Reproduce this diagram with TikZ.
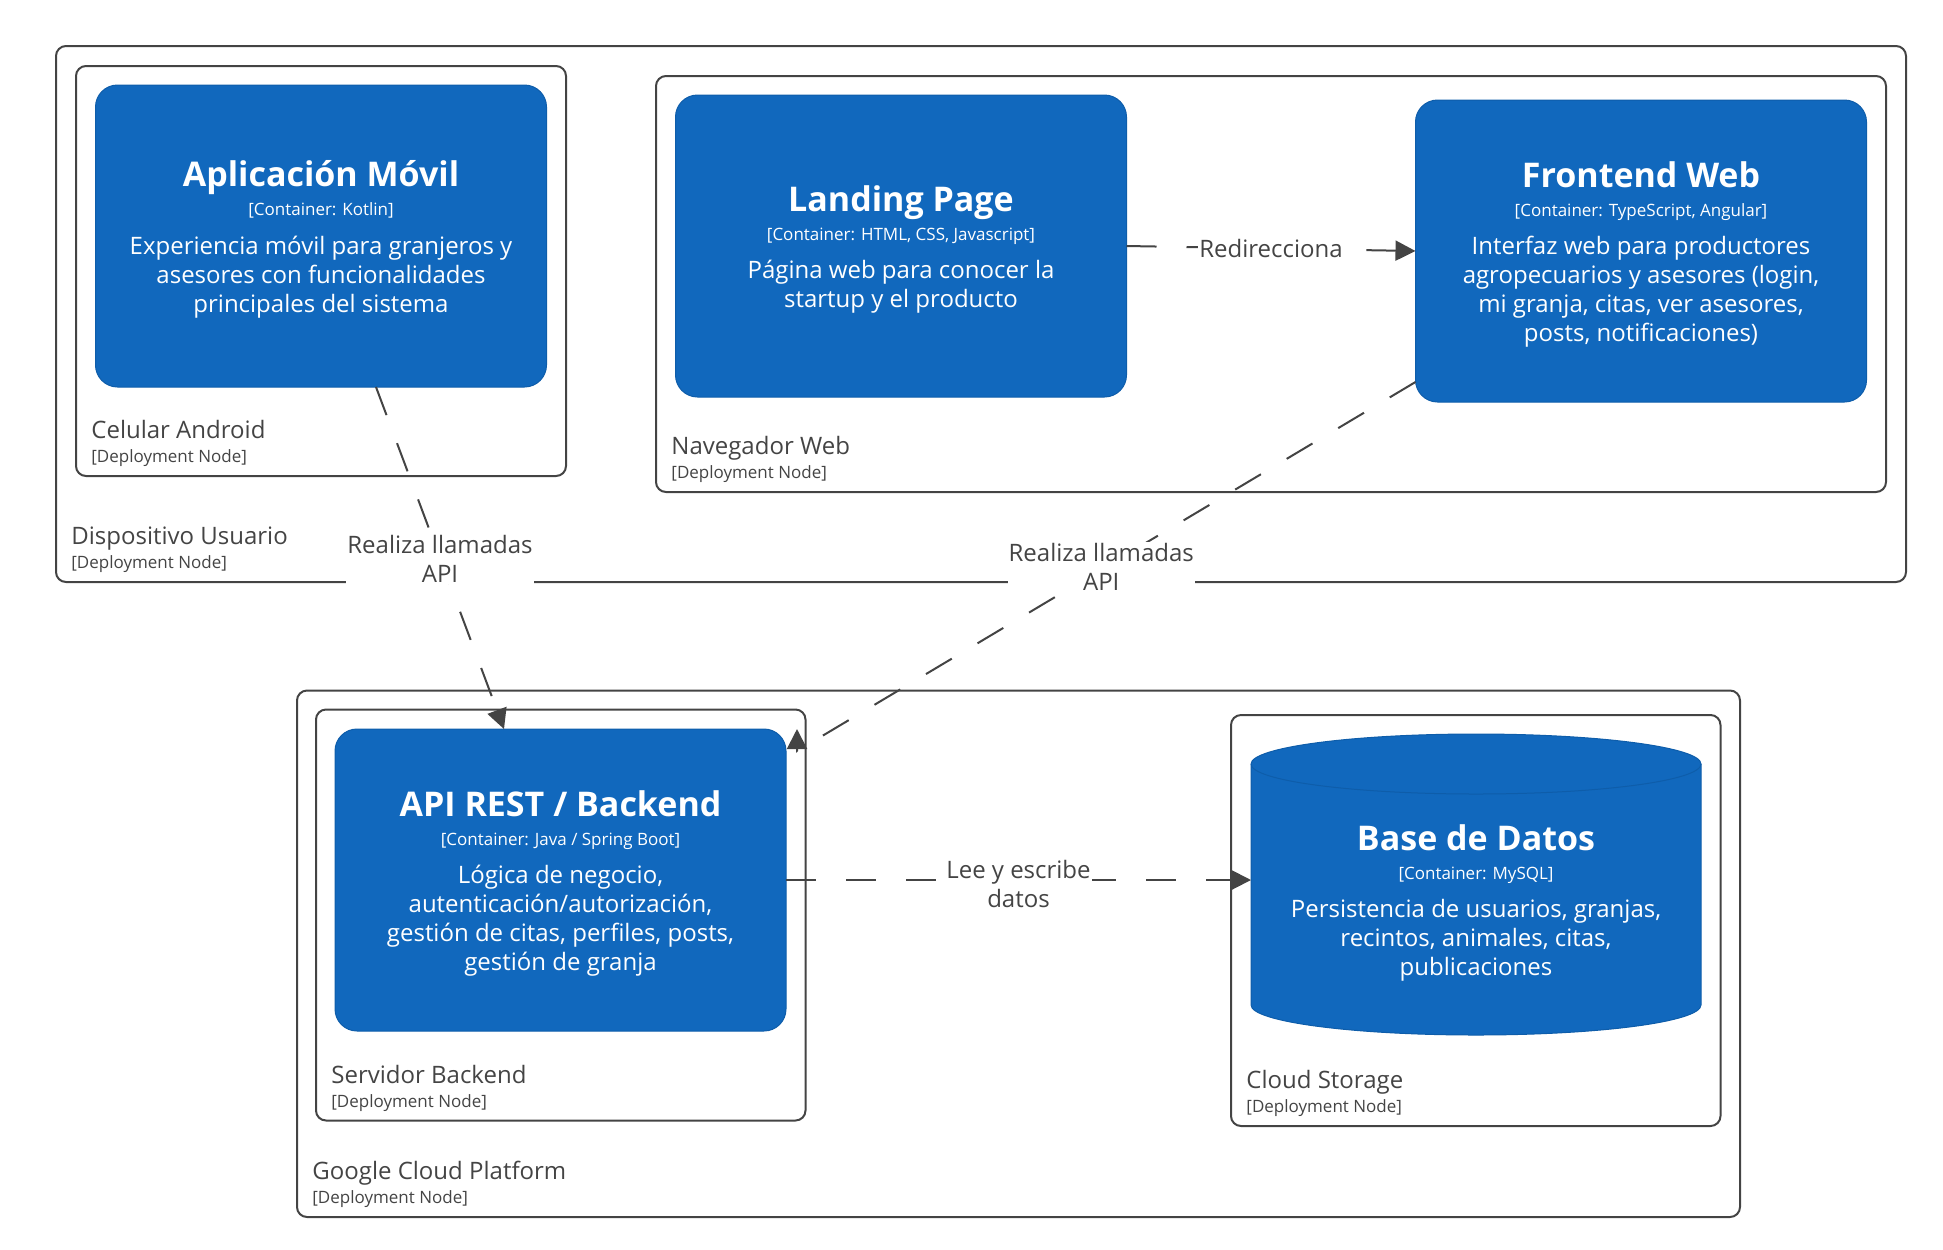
\documentclass[tikz,border=0pt]{standalone}
\usepackage{fontspec}
\setmainfont{Open Sans}
\usetikzlibrary{arrows.meta}

\definecolor{c4blue}{HTML}{1168BD}
\definecolor{c4edge}{HTML}{0E5DAA}
\definecolor{nodegray}{HTML}{444444}

% title / technology / description of a container
\newcommand{\ctrtext}[3]{{\fontsize{17}{19}\selectfont\bfseries\rule{0pt}{16.5pt}#1}\\[0pt]{\fontsize{8.5}{10}\selectfont #2}\\[4.75pt]#3}

\tikzset{
  deploy/.style={draw=nodegray, line width=1pt, rounded corners=5pt, outer sep=0pt, inner sep=0pt},
  container/.style={draw=c4edge, fill=c4blue, line width=0.5pt, rounded corners=11pt, outer sep=0pt, inner sep=0pt,
    minimum width=225.5pt, minimum height=151pt, text=white, align=center, font=\fontsize{12}{14.5}\selectfont},
  dname/.style={anchor=base west, inner sep=0pt, text=nodegray, font=\fontsize{12}{14.5}\selectfont},
  dtech/.style={anchor=base west, inner sep=0pt, text=nodegray, font=\fontsize{8.5}{10}\selectfont},
  rel/.style={draw=nodegray, line width=1pt, dash pattern=on 15pt off 15pt, -{Triangle[length=10pt,width=10pt]}},
  rellabel/.style={fill=white, inner sep=0.5pt, text=nodegray, align=center, font=\fontsize{12}{14.5}\selectfont}
}

\begin{document}
\begin{tikzpicture}[x=0.5pt,y=-0.5pt]
  \useasboundingbox (0,0) rectangle (1943,1249);

  % Deployment nodes
  \node[deploy, minimum width=925pt, minimum height=268pt] (dispositivo) at (981,314) {};
  \node[deploy, minimum width=245pt, minimum height=205pt] (celular) at (321,271) {};
  \node[deploy, minimum width=615pt, minimum height=208pt] (navegador) at (1271,284) {};
  \node[deploy, minimum width=721.5pt, minimum height=263.25pt] (gcp) at (1018.5,953.75) {};
  \node[deploy, minimum width=244.75pt, minimum height=205.5pt] (servidor) at (560.75,915) {};
  \node[deploy, minimum width=244.75pt, minimum height=205.5pt] (storage) at (1475.75,920.5) {};

  % Text Node
  \node[dname] (dispositivo-name) at ([shift={(15,-37.5)}]dispositivo.south west) {Dispositivo Usuario};
  \node[dtech] (dispositivo-tech) at ([shift={(15,-13.5)}]dispositivo.south west) {[Deployment Node]};
  \node[dname] (celular-name) at ([shift={(15,-37.5)}]celular.south west) {Celular Android};
  \node[dtech] (celular-tech) at ([shift={(15,-13.5)}]celular.south west) {[Deployment Node]};
  \node[dname] (navegador-name) at ([shift={(15,-37.5)}]navegador.south west) {Navegador Web};
  \node[dtech] (navegador-tech) at ([shift={(15,-13.5)}]navegador.south west) {[Deployment Node]};
  \node[dname] (gcp-name) at ([shift={(15,-37.5)}]gcp.south west) {Google Cloud Platform};
  \node[dtech] (gcp-tech) at ([shift={(15,-13.5)}]gcp.south west) {[Deployment Node]};
  \node[dname] (servidor-name) at ([shift={(15,-37.5)}]servidor.south west) {Servidor Backend};
  \node[dtech] (servidor-tech) at ([shift={(15,-13.5)}]servidor.south west) {[Deployment Node]};
  \node[dname] (storage-name) at ([shift={(15,-37.5)}]storage.south west) {Cloud Storage};
  \node[dtech] (storage-tech) at ([shift={(15,-13.5)}]storage.south west) {[Deployment Node]};

  % Containers
  \node[container] (app) at (321,236) {\ctrtext{Aplicación Móvil}{[Container: Kotlin]}{Experiencia móvil para granjeros y\\asesores con funcionalidades\\principales del sistema}};
  \node[container] (landing) at (901,246) {\ctrtext{Landing Page}{[Container: HTML, CSS, Javascript]}{Página web para conocer la\\startup y el producto}};
  \node[container] (front) at (1641,251) {\ctrtext{Frontend Web}{[Container: TypeScript, Angular]}{Interfaz web para productores\\agropecuarios y asesores (login,\\mi granja, citas, ver asesores,\\posts, notificaciones)}};
  \node[container] (api) at (560.5,880) {\ctrtext{API REST / Backend}{[Container: Java / Spring Boot]}{Lógica de negocio,\\autenticación/autorización,\\gestión de citas, perfiles, posts,\\gestión de granja}};

  %Shape: Cylinder
  \draw[draw=c4edge, fill=c4blue, line width=0.5pt] (1251,764) -- (1251,1005) .. controls (1251,1021.6) and (1351.7,1035) .. (1476,1035) .. controls (1600.3,1035) and (1701,1021.6) .. (1701,1005) -- (1701,764) .. controls (1701,747.4) and (1600.3,734) .. (1476,734) .. controls (1351.7,734) and (1251,747.4) .. (1251,764) -- cycle;
  \draw[draw=c4edge, line width=0.5pt] (1251,764) .. controls (1251,780.6) and (1351.7,794) .. (1476,794) .. controls (1600.3,794) and (1701,780.6) .. (1701,764);
  \node[container, draw=none, fill=none, minimum width=225pt, minimum height=135.5pt] (db) at (1476,899.5) {\ctrtext{Base de Datos}{[Container: MySQL]}{Persistencia de usuarios, granjas,\\recintos, animales, citas,\\publicaciones}};

  %Straight Lines
  \draw[rel] (landing.east) -- node[rellabel] (redirecciona) {Redirecciona} (front.west);
  \draw[rel] ([shift={(55,0)}]app.south) -- node[rellabel, yshift=-0.5pt] (llamadas-movil) {Realiza llamadas\\API} ([shift={(-56.5,0)}]api.north);
  \coordinate (webtip) at ([shift={(11,0)}]api.north east);
  \draw[rel] ([shift={(0,-20)}]front.south west) -- node[rellabel, xshift=-2.5pt] (llamadas-web) {Realiza llamadas\\API} ([shift={(0,22)}]webtip) -- (webtip);
  \draw[rel] (api.east) -- node[rellabel, yshift=-1.75pt] (lee-escribe) {Lee y escribe\\datos} (api.east -| db.west);

\end{tikzpicture}
\end{document}
